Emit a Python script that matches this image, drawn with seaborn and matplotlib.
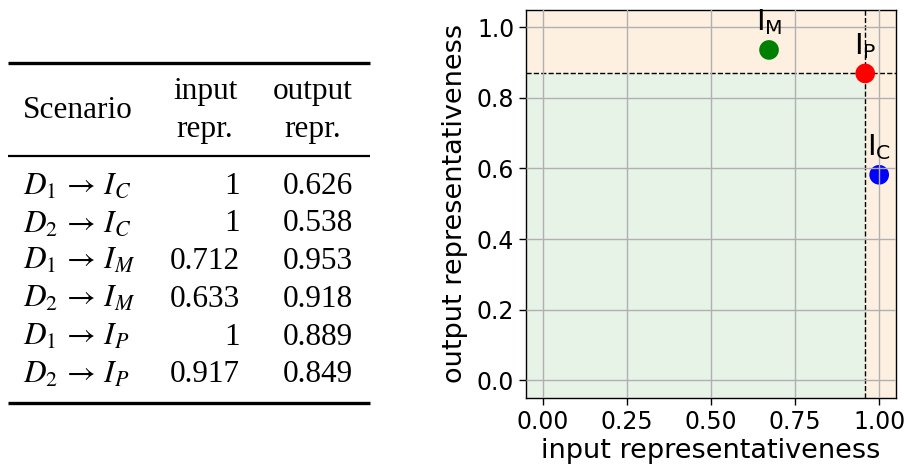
import matplotlib
matplotlib.use("Agg")
import matplotlib.pyplot as plt
import seaborn as sns
import pandas as pd

# ---- data ----
sources = ["D_1", "D_2", "D_1", "D_2", "D_1", "D_2"]
models = ["C", "C", "M", "M", "P", "P"]
input_repr = [1, 1, 0.712, 0.633, 1, 0.917]
output_repr = [0.626, 0.538, 0.953, 0.918, 0.889, 0.849]
input_labels = ["1", "1", "0.712", "0.633", "1", "0.917"]
output_labels = ["0.626", "0.538", "0.953", "0.918", "0.889", "0.849"]
model_colors = {"C": "blue", "M": "green", "P": "red"}
x_ticks = [0.0, 0.25, 0.5, 0.75, 1.0]
y_ticks = [0.0, 0.2, 0.4, 0.6, 0.8, 1.0]

df = pd.DataFrame({"source": sources, "model": models,
                   "input": input_repr, "output": output_repr})
cent = df.groupby("model", as_index=False)[["input", "output"]].mean()

W, H = 907, 466
fig = plt.figure(figsize=(W / 100, H / 100), dpi=100)

# ---- table (left) ----
tab = fig.add_axes([0, 0, 1, 1])
tab.set_xlim(0, W)
tab.set_ylim(H, 0)
tab.axis("off")
serif = ["Liberation Serif", "DejaVu Serif"]
fs = 22.5
tab.plot([8, 370], [62.5, 62.5], color="black", lw=2.4, solid_capstyle="butt")
tab.plot([8, 370], [156, 156], color="black", lw=1.6, solid_capstyle="butt")
tab.plot([8, 370], [403, 403], color="black", lw=2.4, solid_capstyle="butt")
tab.text(23, 111, "Scenario", family=serif, fontsize=fs, ha="left", va="center")
tab.text(205, 91, "input", family=serif, fontsize=fs, ha="center", va="center")
tab.text(205, 129, "repr.", family=serif, fontsize=fs, ha="center", va="center")
tab.text(313, 91, "output", family=serif, fontsize=fs, ha="center", va="center")
tab.text(313, 129, "repr.", family=serif, fontsize=fs, ha="center", va="center")
row0, dy = 186, 37.8
for i, (s, m, a, b) in enumerate(zip(sources, models, input_labels, output_labels)):
    y = row0 + i * dy
    tab.text(23, y, rf"${s} \,\rightarrow\, I_{m}$", family=serif, fontsize=fs,
             math_fontfamily="stix", ha="left", va="center")
    tab.text(240, y, a, family=serif, fontsize=fs, ha="right", va="center")
    tab.text(353, y, b, family=serif, fontsize=fs, ha="right", va="center")

# ---- scatter (right) ----
ax = fig.add_axes([526 / W, 1 - 398 / H, 370 / W, (398 - 9.5) / H])
xlo, xhi, ylo, yhi = -0.05, 1.05, -0.05, 1.05
ax.set_xlim(xlo, xhi)
ax.set_ylim(ylo, yhi)
thr = cent[cent["model"] == "P"].iloc[0]
tx, ty = thr["input"], thr["output"]
orange = "#fdf0e0"
green = "#e6f3e6"
ax.add_patch(plt.Rectangle((xlo, ty), xhi - xlo, yhi - ty, color=orange, lw=0, zorder=0.5))
ax.add_patch(plt.Rectangle((tx, ylo), xhi - tx, ty - ylo, color=orange, lw=0, zorder=0.5))
ax.add_patch(plt.Rectangle((xlo, ylo), tx - xlo, ty - ylo, color=green, lw=0, zorder=0.5))
ax.axvline(tx, color="black", ls="--", lw=1.0, zorder=1.5)
ax.axhline(ty, color="black", ls="--", lw=1.0, zorder=1.5)

sns.scatterplot(data=cent, x="input", y="output", hue="model", palette=model_colors,
                s=200, linewidth=0, legend=False, ax=ax, zorder=2)
for _, r in cent.iterrows():
    ax.annotate(rf"$\mathregular{{I_{r['model']}}}$", (r["input"], r["output"]),
                xytext=(0, 9), textcoords="offset points", ha="center", va="bottom",
                fontsize=21)

ax.set_xticks(x_ticks)
ax.set_yticks(y_ticks)
ax.grid(True, color="#b0b0b0", lw=1.0)
ax.set_axisbelow(False)
for sp in ax.spines.values():
    sp.set_color("black")
    sp.set_linewidth(1.0)
ax.tick_params(labelsize=17, length=5, width=1, colors="black")
ax.set_xlabel("input representativeness", fontsize=19.5, labelpad=3)
ax.set_ylabel("output representativeness", fontsize=19.5, labelpad=6)
ax.set_facecolor("white")

fig.savefig("out.png", dpi=100)
